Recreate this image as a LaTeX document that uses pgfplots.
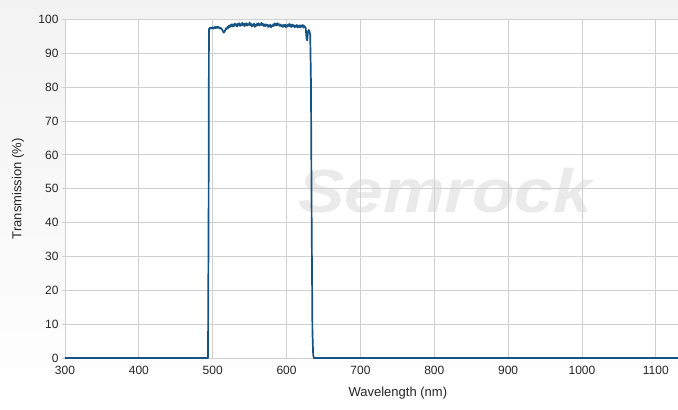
\documentclass[border=0pt]{standalone}
\usepackage{fontspec}
\setmainfont{Liberation Sans}
\usepackage{pgfplots}
\pgfplotsset{compat=1.18}
\definecolor{curve}{RGB}{22,82,130}
\definecolor{gridc}{RGB}{208,208,208}
\definecolor{wm}{RGB}{234,234,234}
\begin{document}
\begin{tikzpicture}
\shade[top color=black!5, bottom color=white] (-65pt,-52pt) rectangle (613pt,358pt);
\fill[white] (0pt,0pt) rectangle (613pt,338.5pt);
\node[text=wm, font=\fontsize{61}{63}\selectfont\bfseries\itshape, xscale=1.14] at (380pt,167pt) {Semrock};
\begin{axis}[
  at={(0,0)}, anchor=south west,
  scale only axis,
  width=613pt, height=338.5pt,
  xmin=300, xmax=1130, ymin=0, ymax=100,
  xtick={300,400,...,1100},
  ytick={0,10,...,100},
  grid=major,
  grid style={gridc, line width=0.8pt},
  axis line style={draw=none},
  xtick style={draw=none},
  ytick style={gridc, line width=0.8pt},
  tick align=outside,
  major tick length=3pt,
  /pgf/number format/assume math mode=true,
  /pgf/number format/set thousands separator={},
  tick label style={font=\fontsize{12}{14}\selectfont, text=black!85},
  xticklabel style={yshift=-2pt},
  xlabel={Wavelength (nm)},
  ylabel={Transmission (\%)},
  label style={font=\fontsize{13}{15}\selectfont, text=black!85},
  xlabel style={at={(axis description cs:0.543,-0.1034)}, anchor=center},
  ylabel style={at={(axis description cs:-0.0767,0.5)}, anchor=center},
  clip=false,
]
\addplot[curve, line width=1.7pt, line join=round] coordinates {
(300,0) (493.6,0) (494.4,40) (494.9,97.2)
(495,97.2) (496,97.5) (497,97.3) (498,97.6) (499,97.4) (500,97.7) (501,97.3) (502,97.6)
(503,97.8) (504,97.4) (505,97.7) (506,97.9) (507,97.5) (508,97.8) (509,97.6) (510,97.3)
(511,97.5) (512,97.2) (513,96.9) (514,96.5) (515,96.1) (516,96.4) (517,96.9) (518,97.4)
(519,97.2) (520,97.8) (521,97.5) (522,98.2) (523,97.7) (524,98.4) (525,98.0) (526,98.6)
(527,97.9) (528,98.5) (529,98.1) (530,98.8) (531,98.2) (532,98.6) (533,97.9) (534,98.7)
(535,98.3) (536,98.9) (537,98.1) (538,98.6) (539,98.2) (540,99.0) (541,98.4) (542,98.7)
(543,98.0) (544,98.8) (545,98.3) (546,98.9) (547,98.2) (548,98.6) (549,98.4) (550,99.1)
(551,98.3) (552,98.7) (553,97.9) (554,98.5) (555,98.2) (556,98.8) (557,97.8) (558,98.4)
(559,98.1) (560,98.7) (561,98.3) (562,98.9) (563,98.2) (564,98.6) (565,98.4) (566,99.0)
(567,98.3) (568,98.7) (569,98.1) (570,98.5) (571,98.0) (572,98.6) (573,98.2) (574,98.4)
(575,97.8) (576,98.3) (577,97.9) (578,98.5) (579,97.7) (580,98.2) (581,98.0) (582,98.6)
(583,98.1) (584,98.8) (585,98.3) (586,98.7) (587,98.2) (588,98.9) (589,98.4) (590,98.6)
(591,98.1) (592,98.5) (593,98.0) (594,98.3) (595,97.8) (596,98.4) (597,98.0) (598,98.5)
(599,97.7) (600,98.3) (601,97.9) (602,98.5) (603,98.1) (604,98.7) (605,97.9) (606,98.4)
(607,97.8) (608,98.5) (609,98.0) (610,98.3) (611,97.7) (612,98.2) (613,97.9) (614,98.4)
(615,97.6) (616,98.1) (617,97.8) (618,98.3) (619,97.7) (620,98.2) (621,97.9) (622,98.4)
(623,97.6) (624,98.1) (625,97.8) (626,97.4) (627,94.5) (628,93.8) (629,96.4) (630,96.9)
(631,96.5) (632,95.5) (633,82) (634,40) (635,8) (636,1) (637,0) (1130,0)
};
\end{axis}
\pgfresetboundingbox
\path (-65pt,-52pt) rectangle (613pt,358pt);
\end{tikzpicture}
\end{document}
